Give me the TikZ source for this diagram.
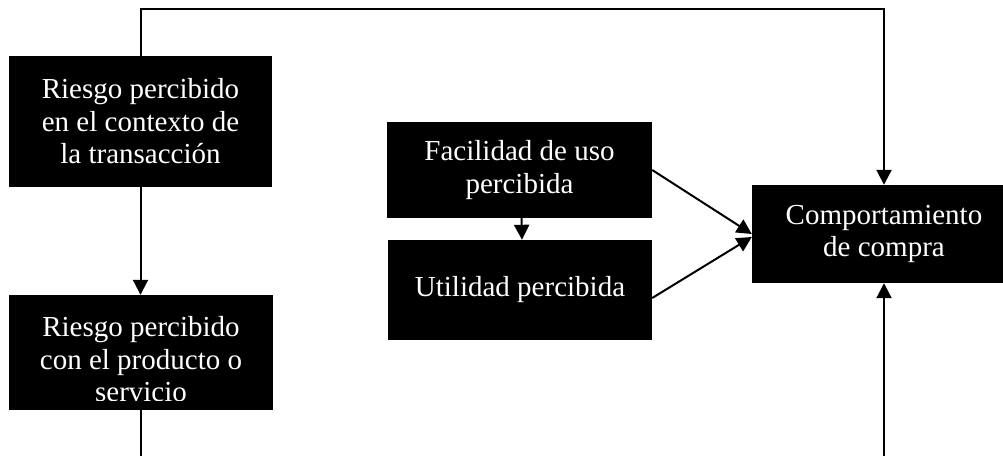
\documentclass[tikz,border=0pt]{standalone}
\usepackage{fontspec}
\setmainfont{Liberation Serif}
\usetikzlibrary{arrows.meta}
\begin{document}
\begin{tikzpicture}[x=1pt,y=-1pt,
  caja/.style={fill=black,text=white,align=center,inner sep=0pt,font=\fontsize{29}{32.5}\selectfont},
  texto/.style={text=white,align=center,inner sep=0pt,font=\fontsize{29}{32.5}\selectfont},
  flecha/.style={line width=2pt,-{Triangle[length=15pt,width=15pt]}},
  linea/.style={line width=2pt}]
\clip (0,0) rectangle (1003,455);
\node[caja,minimum width=263,minimum height=131] (riesgoT) at (140.5,121.5) {Riesgo percibido\\en el contexto de\\la transacción};
\node[caja,minimum width=264,minimum height=115] (riesgoP) at (141,352.5) {};
\begin{scope}
\clip (riesgoP.north west) rectangle ([yshift=10pt]riesgoP.south east);
\node[texto] (riesgoPtxt) at (141,359.5) {Riesgo percibido\\con el producto o\\servicio};
\end{scope}
\node[caja,minimum width=265,minimum height=96] (facilidad) at (519.5,170) {Facilidad de uso\\percibida};
\node[caja,minimum width=264,minimum height=100] (utilidad) at (520,290) {Utilidad percibida};
\node[caja,minimum width=264,minimum height=98] (compra) at (884,234) {Comportamiento\\de compra};
\draw[flecha] (riesgoT.north) -- ++(0,-47) -| (compra.north);
\draw[flecha] (riesgoT.south) -- (riesgoT.south |- riesgoP.north);
\draw[flecha] (riesgoP.south) -- ++(0,60) -| (compra.south);
\draw[flecha] ([xshift=2pt]facilidad.south) -- ([xshift=2pt]utilidad.north);
\draw[flecha] (facilidad.east) -- (compra.west);
\draw[flecha] ([yshift=-8pt]utilidad.east) -- ([yshift=-3pt]compra.west);
\end{tikzpicture}
\end{document}
